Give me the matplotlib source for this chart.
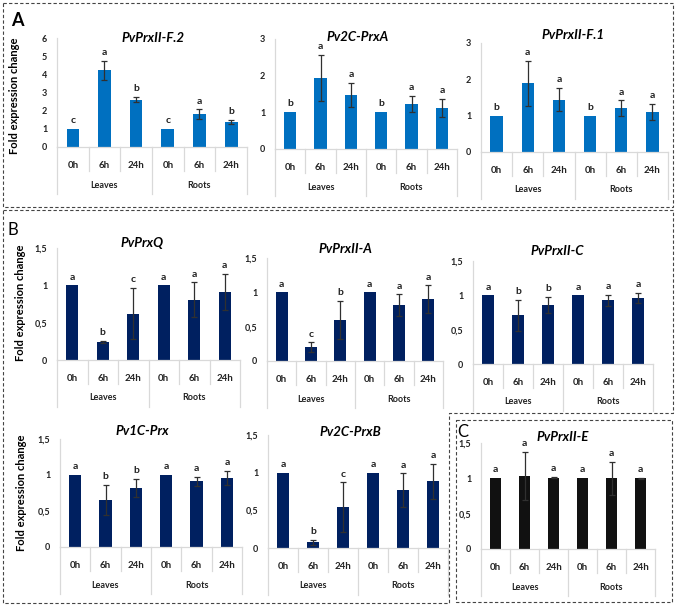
import numpy as np
import matplotlib
matplotlib.use("Agg")
import matplotlib.pyplot as plt
from matplotlib.patches import Polygon

plt.rcParams["font.family"] = ["Lato", "DejaVu Sans"]

W, H = 676, 606

times = ["0h", "6h", "24h", "0h", "6h", "24h"]
tissues = ["Leaves", "Roots"]

# panel A
f2_mean = [1.0, 4.22, 2.61, 1.0, 1.8, 1.38]
f2_err = [0.0, 0.53, 0.14, 0.0, 0.27, 0.13]
f2_sig = ["c", "a", "b", "c", "a", "b"]

a2c_mean = [1.0, 1.94, 1.47, 1.0, 1.23, 1.12]
a2c_err = [0.0, 0.63, 0.33, 0.0, 0.21, 0.25]
a2c_sig = ["b", "a", "a", "b", "a", "a"]

f1_mean = [1.0, 1.89, 1.44, 1.0, 1.21, 1.1]
f1_err = [0.0, 0.62, 0.32, 0.0, 0.21, 0.22]
f1_sig = ["b", "a", "a", "b", "a", "a"]

# panel B
q_mean = [1.0, 0.24, 0.62, 1.0, 0.81, 0.91]
q_err = [0.0, 0.015, 0.34, 0.0, 0.23, 0.245]
q_sig = ["a", "b", "c", "a", "a", "a"]

iia_mean = [1.0, 0.2, 0.6, 1.0, 0.81, 0.9]
iia_err = [0.0, 0.07, 0.28, 0.0, 0.16, 0.2]
iia_sig = ["a", "c", "b", "a", "a", "a"]

iic_mean = [1.0, 0.71, 0.86, 1.0, 0.93, 0.96]
iic_err = [0.0, 0.225, 0.12, 0.0, 0.08, 0.075]
iic_sig = ["a", "b", "b", "a", "a", "a"]

c1_mean = [1.0, 0.65, 0.82, 1.0, 0.91, 0.96]
c1_err = [0.0, 0.21, 0.13, 0.0, 0.065, 0.095]
c1_sig = ["a", "b", "b", "a", "a", "a"]

b2c_mean = [1.0, 0.076, 0.54, 1.0, 0.77, 0.885]
b2c_err = [0.0, 0.035, 0.33, 0.0, 0.22, 0.235]
b2c_sig = ["a", "b", "c", "a", "a", "a"]

# panel C
iie_mean = [1.0, 1.03, 1.01, 1.0, 1.0, 1.0]
iie_err = [0.0, 0.34, 0.01, 0.0, 0.23, 0.005]
iie_sig = ["a", "a", "a", "a", "a", "a"]

fig = plt.figure(figsize=(W / 100, H / 100), dpi=100)
grid_c = "#d9d9d9"


def draw(rect, tpos, title, mean, err, sig, ymax, step, color, ylabel=None):
    x0, x1, ytop, ybase = rect
    h = ybase - ytop
    ax = fig.add_axes([x0 / W, 1 - ybase / H, (x1 - x0) / W, h / H])
    x = np.arange(len(mean))
    mean = np.array(mean)
    err = np.array(err)
    ax.bar(x, mean, width=0.4, color=color, zorder=2)
    m = err > 0
    ax.errorbar(x[m], mean[m], yerr=err[m], fmt="none", ecolor="#303030",
                elinewidth=0.9, capsize=2, capthick=0.9, zorder=3)
    for xi, yi, ei, s in zip(x, mean, err, sig):
        ax.annotate(s, (xi, yi + ei), xytext=(0, 6), textcoords="offset points",
                    ha="center", va="center", fontsize=7.5, fontweight="bold",
                    color="#222222")
    ax.set_xlim(-0.5, len(mean) - 0.5)
    ax.set_ylim(0, ymax)
    ticks = np.arange(0, ymax + step / 2, step)
    ax.set_yticks(ticks)
    ax.set_yticklabels([f"{t:g}".replace(".", ",") for t in ticks])
    ax.set_xticks(x)
    ax.set_xticklabels(times)
    ax.tick_params(length=0, labelsize=6.5, colors="#222222")
    ax.tick_params(axis="y", pad=7)
    ax.tick_params(axis="x", pad=10, labelsize=7)
    for lab in ax.get_xticklabels() + ax.get_yticklabels():
        lab.set_fontweight("bold")
    for sp in ["top", "right"]:
        ax.spines[sp].set_visible(False)
    for sp in ["left", "bottom"]:
        ax.spines[sp].set_color(grid_c)
        ax.spines[sp].set_linewidth(0.9)
    tr = ax.get_xaxis_transform()
    for i in range(len(mean) + 1):
        depth = 47 if i % 3 == 0 else 24
        ax.plot([i - 0.5, i - 0.5], [0, -depth / h], transform=tr,
                clip_on=False, color=grid_c, lw=0.9)
    for g, name in enumerate(tissues):
        ax.text(g * 3 + 1, -38 / h, name, transform=tr, ha="center",
                va="center", fontsize=6.5, fontweight="bold", color="#222222")
    fig.text(tpos[0] / W, 1 - tpos[1] / H, title, ha="center", va="center",
             fontsize=9.5, fontweight="bold", fontstyle="italic")
    if ylabel is not None:
        fig.text(ylabel[0] / W, 1 - ylabel[1] / H, "Fold expression change",
                 rotation=90, ha="center", va="center", fontsize=8,
                 fontweight="bold")
    return ax


blue = "#0070c0"
navy = "#002060"
black = "#111111"

draw((57, 247, 38, 147), (153, 38), "PvPrxII-F.2", f2_mean, f2_err, f2_sig, 6, 1, blue, (15, 96))
draw((275, 457, 39, 149), (358, 37), "Pv2C-PrxA", a2c_mean, a2c_err, a2c_sig, 3, 1, blue)
draw((481, 668, 43, 152), (573, 35), "PvPrxII-F.1", f1_mean, f1_err, f1_sig, 3, 1, blue)

draw((57, 240, 248, 360), (142, 243), "PvPrxQ", q_mean, q_err, q_sig, 1.5, 0.5, navy, (21, 303))
draw((267, 443, 258, 361), (345, 249), "PvPrxII-A", iia_mean, iia_err, iia_sig, 1.5, 0.5, navy)
draw((473, 653, 261, 364), (557, 251), "PvPrxII-C", iic_mean, iic_err, iic_sig, 1.5, 0.5, navy)
draw((60, 242, 439, 547), (142, 431), "Pv1C-Prx", c1_mean, c1_err, c1_sig, 1.5, 0.5, navy, (22, 493))
draw((268, 448, 435, 548), (350, 432), "Pv2C-PrxB", b2c_mean, b2c_err, b2c_sig, 1.5, 0.5, navy)
draw((481, 655, 443, 549), (563, 437), "PvPrxII-E", iie_mean, iie_err, iie_sig, 1.5, 0.5, black)

# dashed panel frames
def frame(pts):
    p = Polygon([(px / W, 1 - py / H) for px, py in pts], closed=True, fill=False,
                transform=fig.transFigure, ls=(0, (3, 2)), lw=0.8,
                edgecolor="#444444")
    fig.add_artist(p)


frame([(3, 3), (673, 3), (673, 207), (3, 207)])
frame([(3, 210), (673, 210), (673, 413), (449, 413), (449, 603), (3, 603)])
frame([(456, 420), (672, 420), (672, 602), (456, 602)])

fig.text(17 / W, 1 - 21 / H, "A", ha="center", va="center", fontsize=13, fontweight="bold")
fig.text(13 / W, 1 - 230 / H, "B", ha="center", va="center", fontsize=12)
fig.text(463 / W, 1 - 432 / H, "C", ha="center", va="center", fontsize=12)

fig.savefig("out.png", dpi=100)
